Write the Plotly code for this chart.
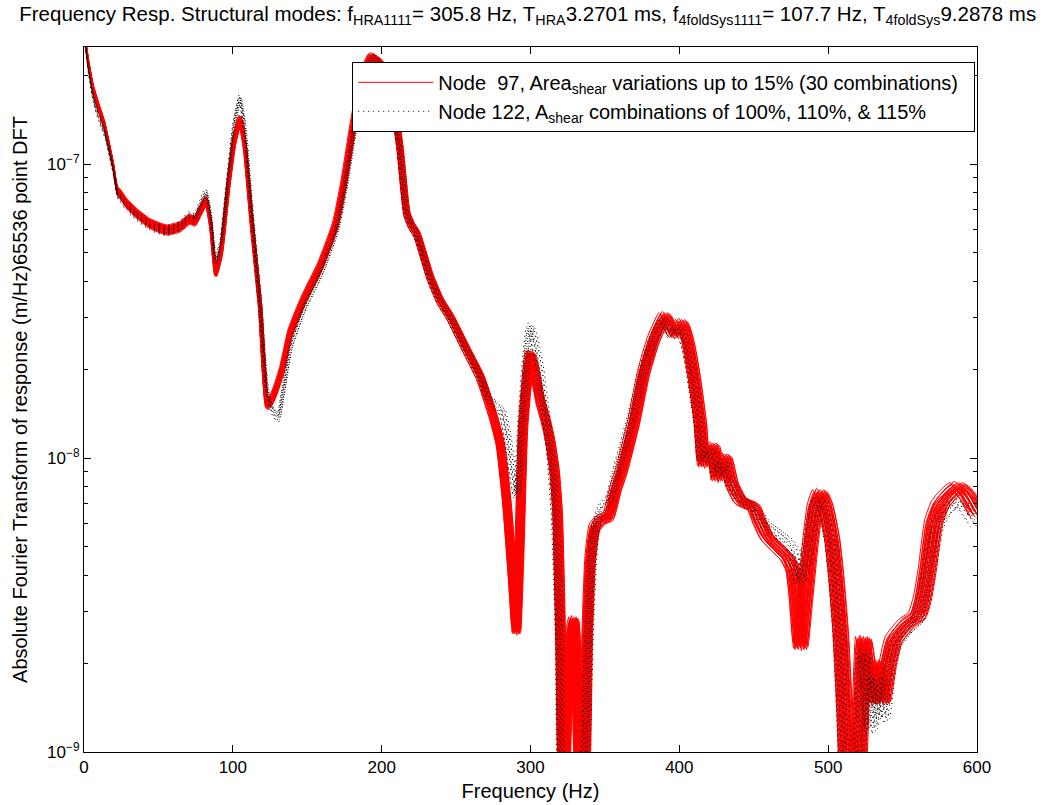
import numpy as np
import plotly.graph_objects as go

# ---------------- data ----------------
red_freq = [0.5, 3, 6.3, 10, 14, 19.7, 22.5, 24.5, 28.7, 35.4, 44.3, 55.6, 64.5, 71, 74.5, 78, 82, 85,
            88.5, 92, 97, 101, 104.8, 108, 112.7, 118.3, 123.2, 126.5, 129.5, 133, 138.4, 147.4, 158.6,
            168.6, 174.2, 181, 187, 193, 199, 205, 209, 212.3, 216.8, 220, 223.5, 232.5, 239.2, 245.9,
            257.1, 266.1, 275, 279.5, 284, 288, 290.3, 292.5, 295, 299.7, 302.5, 306.4, 310, 313, 316,
            318, 320, 322, 324.5, 327, 329, 331, 333.5, 336, 338, 340, 343, 348, 352, 357, 361, 369.1,
            375.9, 382.6, 390.4, 396, 401.6, 405.5, 409.4, 413.9, 416.1, 419, 422.8, 425.1, 428, 430.7,
            435, 440.8, 445, 449.7, 453, 458.7, 465, 472.1, 476, 478.5, 481.1, 484, 488, 491, 494.5, 498,
            502.4, 505, 508, 511, 514, 517, 520, 523.6, 526, 528.1, 531.5, 534, 536, 540, 543.8, 552.8,
            559.5, 563, 566.2, 570.6, 575, 579.6, 587.4, 593, 600]
red_amp = [2.7e-7, 2.2e-7, 1.79e-7, 1.55e-7, 1.34e-7, 9.8e-8, 8.1e-8, 7.9e-8, 7.35e-8, 6.8e-8, 6.28e-8,
           5.97e-8, 6.12e-8, 6.5e-8, 6.4e-8, 6.9e-8, 7.5e-8, 6.3e-8, 4.3e-8, 5.0e-8, 8.5e-8, 1.2e-7,
           1.41e-7, 1.15e-7, 6.3e-8, 3.27e-8, 1.52e-8, 1.6e-8, 1.75e-8, 2.0e-8, 2.65e-8, 3.44e-8, 4.48e-8,
           6.12e-8, 8.4e-8, 1.37e-7, 1.95e-7, 2.3e-7, 2.2e-7, 1.9e-7, 1.5e-7, 1.12e-7, 6.8e-8, 6.2e-8,
           5.8e-8, 4.14e-8, 3.44e-8, 3.03e-8, 2.33e-8, 1.89e-8, 1.38e-8, 1.12e-8, 7e-9, 3.8e-9, 2.6e-9,
           5e-9, 1.3e-8, 2.25e-8, 2.0e-8, 1.57e-8, 1.35e-8, 1.15e-8, 9e-9, 6.5e-9, 2.5e-9, 6e-10, 1.5e-9,
           2.5e-9, 2.8e-9, 1.8e-9, 7e-10, 8e-10, 2.5e-9, 4.5e-9, 5.8e-9, 6.2e-9, 6.3e-9, 7.8e-9, 9.0e-9,
           1.31e-8, 1.94e-8, 2.52e-8, 3.03e-8, 2.65e-8, 2.87e-8, 2.5e-8, 1.94e-8, 1.31e-8, 9.6e-9, 1.05e-8,
           1.09e-8, 8.6e-9, 9.8e-9, 1.0e-8, 8.2e-9, 7.2e-9, 7.0e-9, 6.83e-9, 6.2e-9, 5.4e-9, 5.0e-9, 4.6e-9,
           4.2e-9, 3.3e-9, 2.3e-9, 3.2e-9, 5.2e-9, 6.8e-9, 7.58e-9, 6.9e-9, 5.3e-9, 4.0e-9, 2.6e-9, 1.3e-9,
           5e-10, 4e-10, 8e-10, 2.4e-9, 2.0e-9, 1.5e-9, 2.0e-9, 1.8e-9, 1.5e-9, 2.0e-9, 2.4e-9, 2.74e-9,
           2.9e-9, 3.3e-9, 4.1e-9, 6.0e-9, 6.9e-9, 7.4e-9, 8.0e-9, 7.5e-9, 6.5e-9]

black_freq = [0.5, 3, 6.3, 10, 14, 19.7, 22.5, 24.5, 28.7, 35.4, 44.3, 55.6, 64.5, 71, 74.5, 78, 82, 85,
              88.5, 92, 97, 101, 104.8, 108, 112.7, 118.3, 123.2, 127, 130.6, 134, 139, 148, 159.5, 169.5,
              175, 182, 188, 193.5, 199, 205, 209, 212.3, 216.8, 220, 223.5, 232.5, 239.2, 245.9, 257.1,
              266.1, 272, 277, 281, 284.5, 288, 291, 294, 297, 300, 303, 306.5, 310, 314, 317, 319.5, 322,
              328, 333, 337, 340, 343, 348, 353, 358, 364, 370, 376, 383, 390, 395, 400, 405, 409, 413.5,
              416, 419, 422.5, 425, 430, 435, 441, 450, 458, 466, 472, 477, 481, 484, 488, 492, 495, 498,
              502, 505, 508, 511, 514, 518, 521, 524, 527, 529, 532, 534.5, 537, 541, 545, 553, 560, 564,
              568, 573, 578, 583, 590, 600]
black_amp = [2.7e-7, 2.1e-7, 1.68e-7, 1.45e-7, 1.28e-7, 9.6e-8, 8.0e-8, 7.7e-8, 7.2e-8, 6.7e-8, 6.2e-8,
             5.95e-8, 6.2e-8, 6.7e-8, 6.6e-8, 7.3e-8, 8.0e-8, 6.8e-8, 4.7e-8, 5.4e-8, 9.2e-8, 1.38e-7,
             1.67e-7, 1.35e-7, 7.0e-8, 3.4e-8, 1.7e-8, 1.45e-8, 1.38e-8, 1.7e-8, 2.4e-8, 3.25e-8, 4.3e-8,
             5.9e-8, 8.0e-8, 1.33e-7, 1.95e-7, 2.3e-7, 2.2e-7, 1.9e-7, 1.5e-7, 1.12e-7, 6.8e-8, 6.2e-8,
             5.8e-8, 4.14e-8, 3.44e-8, 3.03e-8, 2.33e-8, 1.92e-8, 1.6e-8, 1.52e-8, 1.45e-8, 1.2e-8, 9.0e-9,
             7.5e-9, 1.3e-8, 2.1e-8, 2.8e-8, 2.5e-8, 2.0e-8, 1.45e-8, 1.0e-8, 6.0e-9, 2.5e-9, 5e-10, 4e-10,
             5e-10, 1.0e-9, 3.0e-9, 5.5e-9, 6.8e-9, 7.2e-9, 9.0e-9, 1.15e-8, 1.5e-8, 2.0e-8, 2.55e-8,
             2.95e-8, 2.65e-8, 2.75e-8, 2.4e-8, 1.85e-8, 1.3e-8, 9.8e-9, 1.05e-8, 1.05e-8, 8.8e-9, 9.6e-9,
             8.2e-9, 7.3e-9, 6.8e-9, 6.0e-9, 5.6e-9, 5.3e-9, 4.9e-9, 3.8e-9, 4.2e-9, 5.5e-9, 7.0e-9, 7.2e-9,
             6.6e-9, 5.2e-9, 3.8e-9, 2.4e-9, 1.1e-9, 4e-10, 4e-10, 9e-10, 2.2e-9, 1.6e-9, 1.2e-9, 1.8e-9,
             1.5e-9, 1.3e-9, 1.9e-9, 2.3e-9, 2.6e-9, 2.8e-9, 3.2e-9, 4.2e-9, 5.8e-9, 6.5e-9, 6.9e-9, 7.0e-9,
             6.0e-9]

# per-combination frequency shift and gain (spread of the bundles)
red_shift = [0.990, 0.991, 0.992, 0.993, 0.9935, 0.994, 0.995, 0.9955, 0.996, 0.997, 0.9975, 0.998,
             0.999, 0.9995, 1.000, 1.001, 1.0015, 1.002, 1.003, 1.0035, 1.004, 1.005, 1.0055, 1.006,
             1.007, 1.0075, 1.008, 1.009, 1.010, 1.011]
red_gain = [1.03, 0.98, 1.01, 0.97, 1.02, 1.00, 0.99, 1.04, 0.98, 1.01, 0.97, 1.02, 1.00, 0.99, 1.03,
            0.98, 1.01, 0.96, 1.02, 1.00, 0.99, 1.03, 0.97, 1.01, 0.98, 1.02, 1.00, 0.97, 1.01, 0.99]
black_shift = [0.991, 0.993, 0.995, 0.997, 0.999, 1.001, 1.003, 1.005, 1.008]
black_gain = [1.00, 0.97, 1.03, 0.99, 1.01, 0.96, 1.02, 0.98, 1.00]

x_ticks = [0, 100, 200, 300, 400, 500, 600]
y_ticks = [1e-9, 1e-8, 1e-7]
y_tick_text = ["10<sup>\u22129</sup>", "10<sup>\u22128</sup>", "10<sup>\u22127</sup>"]

title_text = ("Frequency Resp. Structural modes: f<sub>HRA1111</sub>= 305.8 Hz, T<sub>HRA</sub>3.2701 ms, "
              "f<sub>4foldSys1111</sub>= 107.7 Hz, T<sub>4foldSys</sub>9.2878 ms")
red_label = "Node\u00a0 97, Area<sub>shear</sub> variations up to 15% (30 combinations)\u00a0\u00a0"
black_label = "Node 122, A<sub>shear</sub> combinations of 100%, 110%, & 115%"

# ---------------- figure ----------------
FONT = "Liberation Sans, Arial, Helvetica, sans-serif"
fig = go.Figure()

rf = np.array(red_freq)
ra = np.array(red_amp)
for i, (s, g) in enumerate(zip(red_shift, red_gain)):
    fig.add_trace(go.Scatter(
        x=rf * s, y=ra * g, mode="lines",
        line=dict(color="#ff0000", width=1, shape="spline", smoothing=0.5),
        name=red_label, legendgroup="red", showlegend=(i == 0), hoverinfo="skip"))

bf = np.array(black_freq)
ba = np.array(black_amp)
for i, (s, g) in enumerate(zip(black_shift, black_gain)):
    fig.add_trace(go.Scatter(
        x=bf * s, y=ba * g, mode="lines",
        line=dict(color="#000000", width=1, dash="1px,4px", shape="spline", smoothing=0.5),
        name=black_label, legendgroup="black", showlegend=(i == 0), hoverinfo="skip"))

minor_vals = [m * 10.0 ** e for e in (-9, -8, -7) for m in range(2, 10)]

fig.update_layout(
    width=1045, height=805,
    margin=dict(l=84, r=68, t=47, b=53),
    paper_bgcolor="white", plot_bgcolor="white",
    font=dict(family=FONT, size=17, color="black"),
    title=dict(text=title_text, x=0.505, xref="container", xanchor="center",
               y=0.983, yref="container", yanchor="middle", font=dict(size=20.5)),
    legend=dict(x=0.998, y=0.979, xanchor="right", yanchor="top",
                bgcolor="white", bordercolor="black", borderwidth=1,
                font=dict(size=20), itemwidth=75, tracegroupgap=0),
    showlegend=True,
)
fig.update_xaxes(
    range=[0, 600], tickvals=x_ticks, ticks="inside", ticklen=7, tickcolor="black",
    showline=True, linecolor="black", linewidth=1, mirror="ticks", showgrid=False, zeroline=False,
    automargin=False,
    title=dict(text="Frequency (Hz)", standoff=7), tickfont=dict(size=17))
fig.update_yaxes(
    type="log", range=[-9, -6.602], tickvals=y_ticks, ticktext=y_tick_text,
    ticks="inside", ticklen=7, tickcolor="black",
    minor=dict(tickvals=minor_vals, ticks="inside", ticklen=4, tickcolor="black", showgrid=False),
    showline=True, linecolor="black", linewidth=1, mirror="ticks", showgrid=False, zeroline=False,
    automargin=False,
    title=dict(text="Absolute Fourier Transform of response (m/Hz)65536 point DFT", standoff=14),
    tickfont=dict(size=17))

fig.write_html("out.html", config={"displayModeBar": False},
               post_script="document.body.style.margin='0px';")
